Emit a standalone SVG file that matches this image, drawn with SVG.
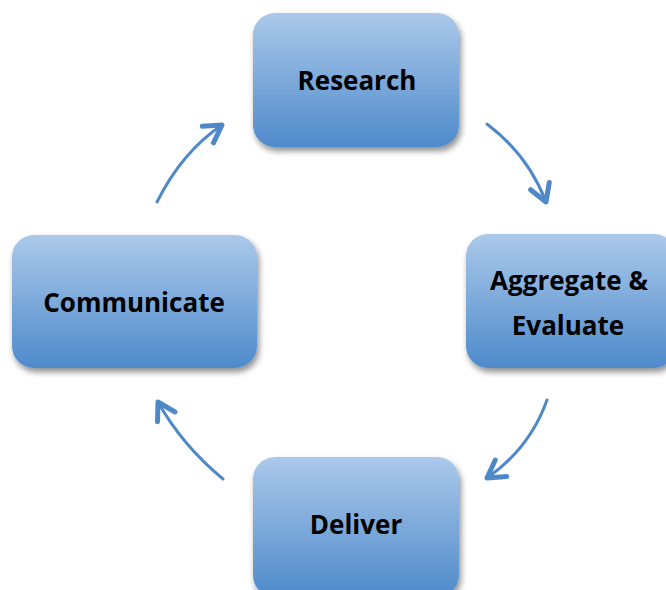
<svg xmlns="http://www.w3.org/2000/svg" width="666" height="590" viewBox="0 0 666 590">
<defs>
<linearGradient id="g" x1="0" y1="0" x2="0" y2="1">
<stop offset="0" stop-color="#abc9ea"/>
<stop offset="1" stop-color="#4e8acb"/>
</linearGradient>
<filter id="sh" x="-10%" y="-10%" width="125%" height="130%">
<feGaussianBlur in="SourceAlpha" stdDeviation="3"/>
<feOffset dx="2" dy="4" result="b"/>
<feComponentTransfer><feFuncA type="linear" slope="0.45"/></feComponentTransfer>
<feMerge><feMergeNode/><feMergeNode in="SourceGraphic"/></feMerge>
</filter>
<marker id="ah" markerUnits="userSpaceOnUse" markerWidth="40" markerHeight="40" refX="0" refY="0" viewBox="-20 -20 40 40" orient="auto" overflow="visible">
<path d="M-17,-10 L0,0 L-17,10" fill="none" stroke="#4f88c8" stroke-width="5" stroke-linecap="round" stroke-linejoin="round"/>
</marker>
</defs>
<style>
.box{fill:url(#g);filter:url(#sh)}
.lbl{font-family:"Open Sans","Liberation Sans",sans-serif;font-weight:bold;font-size:26px;fill:#000;text-anchor:middle}
.arr{fill:none;stroke:#4f88c8;stroke-width:3;stroke-linecap:round;marker-end:url(#ah)}
</style>
<g id="connectors">
<path class="arr" d="M157,202 Q182,152 222,125"/>
<path class="arr" d="M487,124 Q528,155 546,202"/>
<path class="arr" d="M547,400 Q530,448 487,478"/>
<path class="arr" d="M223,479 Q182,445 158,402"/>
</g>
<g id="research">
<rect class="box" x="253" y="13" width="206" height="134" rx="22"/>
<text class="lbl" x="357" y="90">Research</text>
</g>
<g id="aggregate">
<rect class="box" x="466" y="234" width="210" height="134" rx="22"/>
<text class="lbl" x="569" y="290">Aggregate &amp;</text>
<text class="lbl" x="568" y="335">Evaluate</text>
</g>
<g id="communicate">
<rect class="box" x="12" y="235" width="245" height="133" rx="22"/>
<text class="lbl" x="134" y="312">Communicate</text>
</g>
<g id="deliver">
<rect class="box" x="253" y="457" width="206" height="140" rx="22"/>
<text class="lbl" x="356" y="534">Deliver</text>
</g>
</svg>
